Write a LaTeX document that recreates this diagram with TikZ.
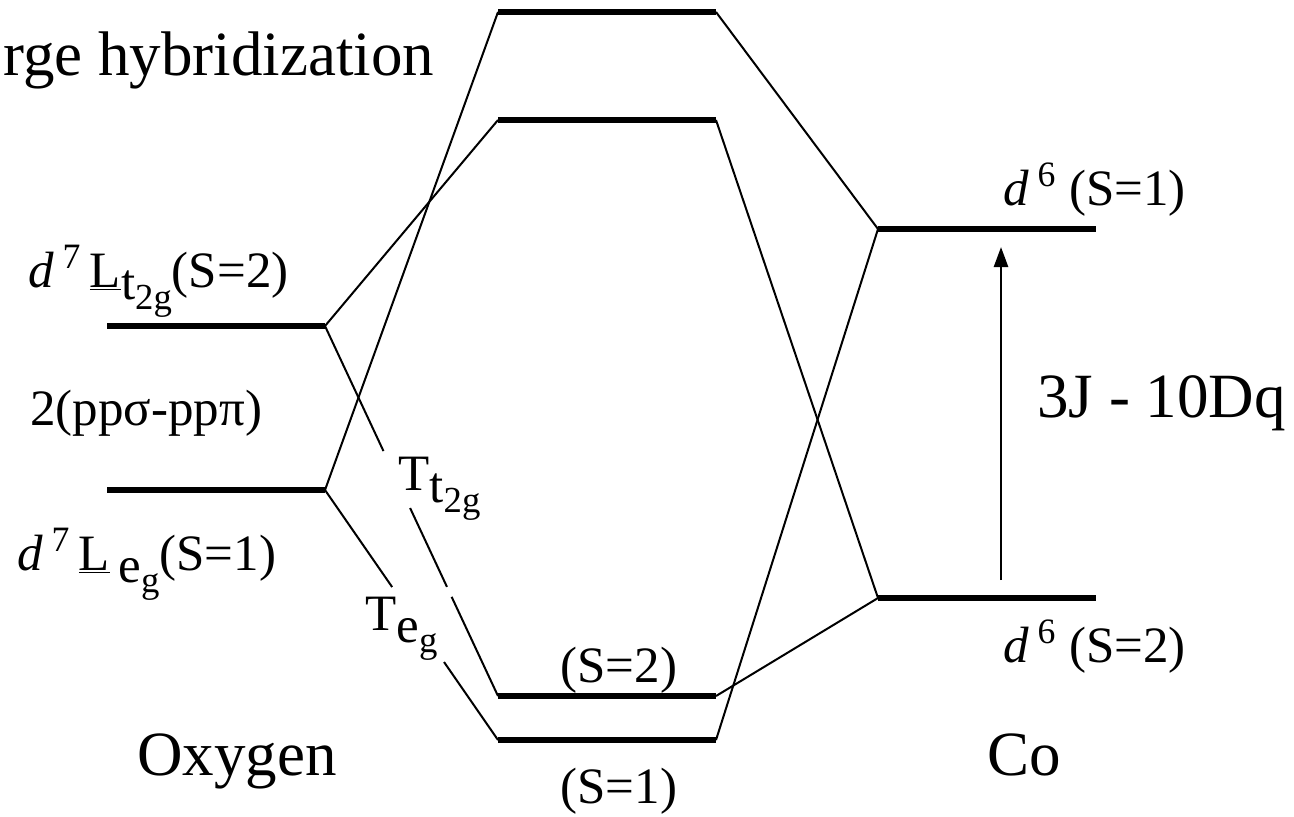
\documentclass[tikz,border=0pt]{standalone}
\usepackage{fontspec}
\setmainfont{LiberationSerif}[Extension=.ttf, UprightFont=*-Regular, ItalicFont=*-Italic, BoldFont=*-Bold, BoldItalicFont=*-BoldItalic]
\usetikzlibrary{arrows.meta,calc}
\tikzset{
  lvl/.style   = {line width=3pt},
  link/.style  = {line width=1pt},
  sig/.style   = {-{Triangle[length=10pt,width=7pt]}, line width=1.3pt},
  bigtxt/.style = {font=\fontsize{31.5}{36}\selectfont, inner sep=0pt, anchor=base west},
  labtxt/.style = {font=\fontsize{25.5}{30}\selectfont, inner sep=0pt, anchor=base west},
}
\newcommand{\level}[3]{\draw[lvl] (#2,#3) coordinate (#1-l) -- ++(218,0) coordinate (#1-r);}
\newcommand{\lsub}[2]{\raisebox{-.25em}{#1\raisebox{-.2em}{\scalebox{.72}{#2}}}}

\begin{document}
\begin{tikzpicture}[x=0.5pt,y=-0.5pt]
\useasboundingbox (0,0) rectangle (1294,816);
% levels: oxygen side, middle, Co side
\level{lt2g}{107}{326}
\level{leg}{107}{490}
\level{up1}{498}{12}
\level{up2}{498}{120}
\level{hs}{498}{696}
\level{ls}{498}{740}
\level{co1}{878}{229}
\level{co2}{878}{598}
% hybridization links
\draw[link] (lt2g-r) -- (up2-l);
\draw[link] (lt2g-r) -- ($(lt2g-r)!.338!(hs-l)$) ($(lt2g-r)!.492!(hs-l)$) -- ($(lt2g-r)!.705!(hs-l)$) ($(lt2g-r)!.732!(hs-l)$) -- (hs-l);
\draw[link] (leg-r) -- (up1-l);
\draw[link] (leg-r) -- ($(leg-r)!.388!(ls-l)$) ($(leg-r)!.688!(ls-l)$) -- (ls-l);
\draw[link] (up1-r) -- (co1-l);
\draw[link] (up2-r) -- (co2-l);
\draw[link] (hs-r) -- (co2-l);
\draw[link] (ls-r) -- (co1-l);
% splitting arrow
\coordinate (gapbot) at (1001,580);
\coordinate (gaptop) at (1001,247);
\draw[sig] (gapbot) -- (gaptop);
% labels
\node[bigtxt] (title) at (3,75) {rge hybridization};
\node[labtxt] (lt2gtxt) at (28,287) {\textit{d}\,\textsuperscript{7}\,\underline{L}\lsub{t}{2g}(S=2)};
\node[labtxt] (pptxt) at (30,425) {2(ppσ-ppπ)};
\node[labtxt] (legtxt) at (17,570) {\textit{d}\,\textsuperscript{7}\,\underline{L}\,\lsub{e}{g}(S=1)};
\node[labtxt] (tt2g) at (398,490) {T\lsub{t}{2g}};
\node[labtxt] (teg) at (365,630) {T\lsub{e}{g}};
\node[labtxt] (hstxt) at (560,682) {(S=2)};
\node[labtxt] (lstxt) at (560,803) {(S=1)};
\node[labtxt] (co1txt) at (1003,205) {\textit{d}\,\textsuperscript{6} (S=1)};
\node[labtxt] (co2txt) at (1003,662) {\textit{d}\,\textsuperscript{6} (S=2)};
\node[bigtxt] (oxy) at (137,775) {Oxygen};
\node[bigtxt] (cobalt) at (987,775) {Co};
\node[bigtxt] (gaptxt) at (1037,417) {3J - 10Dq};
\end{tikzpicture}
\end{document}
